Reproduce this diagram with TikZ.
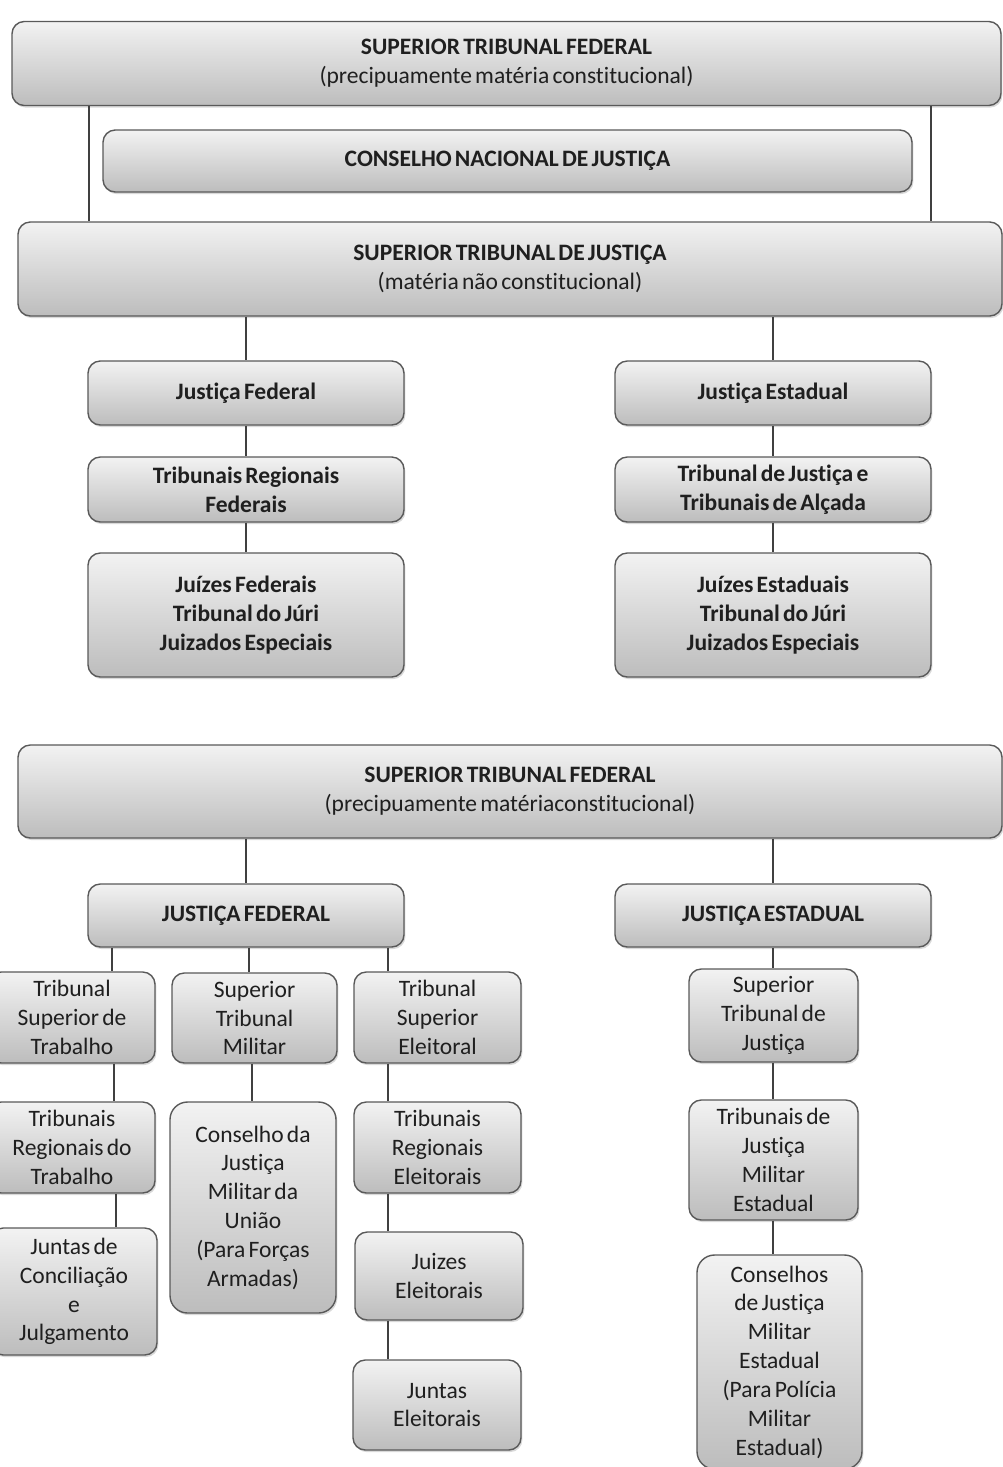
\documentclass[tikz,border=0pt]{standalone}
\usepackage{fontspec}
\setmainfont{Carlito}[WordSpace=0.6, Ligatures=NoCommon]
\usetikzlibrary{shadows}

\tikzset{
  orgbox/.style={rectangle, rounded corners=7pt, draw=black!65, line width=0.8pt,
    top color=black!5, bottom color=black!26,
    drop shadow={shadow xshift=0.8pt, shadow yshift=-1.2pt, opacity=0.3},
    align=center, inner sep=0pt, text=black!88,
    font=\fontsize{13.4}{16.4}\selectfont},
  headbox/.style={orgbox, font=\fontsize{13.4}{16.4}\selectfont\bfseries},
  boxsize/.style 2 args={minimum width=#1*0.02cm, minimum height=#2*0.02cm},
  link/.style={draw=black!75, line width=0.8pt}
}

\begin{document}
\begin{tikzpicture}[x=0.02cm, y=-0.02cm]
    \useasboundingbox (0,0) rectangle (1002,1467);

    % nodes (upper chart)
    \node (stfA) at (506.5,63.5) [orgbox, boxsize={989}{84}] {\textbf{SUPERIOR TRIBUNAL FEDERAL}\\(precipuamente matéria constitucional)};
    \node (cnj) at (507.5,161) [headbox, boxsize={809}{62}] {CONSELHO NACIONAL DE JUSTIÇA};
    \node (stjA) at (510,269) [orgbox, boxsize={984}{94}] {\textbf{SUPERIOR TRIBUNAL DE JUSTIÇA}\\(matéria não constitucional)};
    \node (jfA) at (246,393) [headbox, boxsize={316}{64}] {Justiça Federal};
    \node (jeA) at (773,393) [headbox, boxsize={316}{64}] {Justiça Estadual};
    \node (trf) at (246,489.5) [headbox, boxsize={316}{65}] {Tribunais Regionais\\Federais};
    \node (tj) at (773,489.5) [headbox, boxsize={316}{65}] {Tribunal de Justiça e\\Tribunais de Alçada};
    \node (jfz) at (246,615) [headbox, boxsize={316}{124}] {Juízes Federais\\Tribunal do Júri\\Juizados Especiais};
    \node (jez) at (773,615) [headbox, boxsize={316}{124}] {Juízes Estaduais\\Tribunal do Júri\\Juizados Especiais};

    % nodes (lower chart)
    \node (stfB) at (510,791.5) [orgbox, boxsize={984}{93}] {\textbf{SUPERIOR TRIBUNAL FEDERAL}\\(precipuamente matériaconstitucional)};
    \node (jfB) at (246,915.5) [headbox, boxsize={316}{63}] {JUSTIÇA FEDERAL};
    \node (jeB) at (773,915.5) [headbox, boxsize={316}{63}] {JUSTIÇA ESTADUAL};
    \node (tst) at (72,1017.5) [orgbox, boxsize={166}{91}] {Tribunal\\Superior de\\Trabalho};
    \node (trt) at (72,1147.5) [orgbox, boxsize={166}{91}] {Tribunais\\Regionais do\\Trabalho};
    \node (jcj) at (74,1291.5) [orgbox, boxsize={166}{127}] {Juntas de\\Conciliação\\e\\Julgamento};
    \node (stm) at (254.5,1018) [orgbox, boxsize={165}{90}] {Superior\\Tribunal\\Militar};
    \node (cjmu) at (253,1207.5) [orgbox, boxsize={166}{211}, rounded corners=10pt] {Conselho da\\Justiça\\Militar da\\União\\(Para Forças\\Armadas)};
    \node (tse) at (437.5,1017.5) [orgbox, boxsize={167}{91}] {Tribunal\\Superior\\Eleitoral};
    \node (tre) at (437.5,1147.5) [orgbox, boxsize={167}{91}] {Tribunais\\Regionais\\Eleitorais};
    \node (jzel) at (439,1276) [orgbox, boxsize={168}{88}] {Juizes\\Eleitorais};
    \node (jtel) at (437,1405) [orgbox, boxsize={168}{90}] {Juntas\\Eleitorais};
    \node (stje) at (773.5,1015.5) [orgbox, boxsize={169}{93}] {Superior\\Tribunal de\\Justiça};
    \node (tjm) at (773.5,1160) [orgbox, boxsize={169}{120}] {Tribunais de\\Justiça\\Militar\\Estadual};
    \node (cjme) at (779.5,1362) [orgbox, boxsize={165}{214}, rounded corners=10pt] {Conselhos\\de Justiça\\Militar\\Estadual\\(Para Polícia\\Militar\\Estadual)};

    % paths (upper chart)
    \draw[link] (stfA.south -| 89,0) -- (stjA.north -| 89,0); % STF -> STJ
    \draw[link] (stfA.south -| 931,0) -- (stjA.north -| 931,0); % STF -> STJ
    \draw[link] (stjA.south -| jfA.north) -- (jfA.north); % STJ -> Federal
    \draw[link] (stjA.south -| jeA.north) -- (jeA.north); % STJ -> Estadual
    \draw[link] (jfA) -- (trf);
    \draw[link] (trf) -- (jfz);
    \draw[link] (jeA) -- (tj);
    \draw[link] (tj) -- (jez);

    % paths (lower chart)
    \draw[link] (stfB.south -| jfB.north) -- (jfB.north); % STF -> Federal
    \draw[link] (stfB.south -| jeB.north) -- (jeB.north); % STF -> Estadual
    \draw[link] (jfB.south -| 112,0) -- (tst.north -| 112,0); % Federal -> Trabalho
    \draw[link] (jfB.south -| 249,0) -- (stm.north -| 249,0); % Federal -> Militar
    \draw[link] (jfB.south -| 388,0) -- (tse.north -| 388,0); % Federal -> Eleitoral
    \draw[link] (tst.south -| 114,0) -- (trt.north -| 114,0);
    \draw[link] (trt.south -| 116,0) -- (jcj.north -| 116,0);
    \draw[link] (stm.south -| 252,0) -- (cjmu.north -| 252,0);
    \draw[link] (tse.south -| 388,0) -- (tre.north -| 388,0);
    \draw[link] (tre.south -| 388,0) -- (jzel.north -| 388,0);
    \draw[link] (jzel.south -| 388,0) -- (jtel.north -| 388,0);
    \draw[link] (jeB.south -| 773,0) -- (stje.north -| 773,0); % Estadual -> STJ
    \draw[link] (stje.south -| 773,0) -- (tjm.north -| 773,0);
    \draw[link] (tjm.south -| 773,0) -- (cjme.north -| 773,0);

\end{tikzpicture}
\end{document}
